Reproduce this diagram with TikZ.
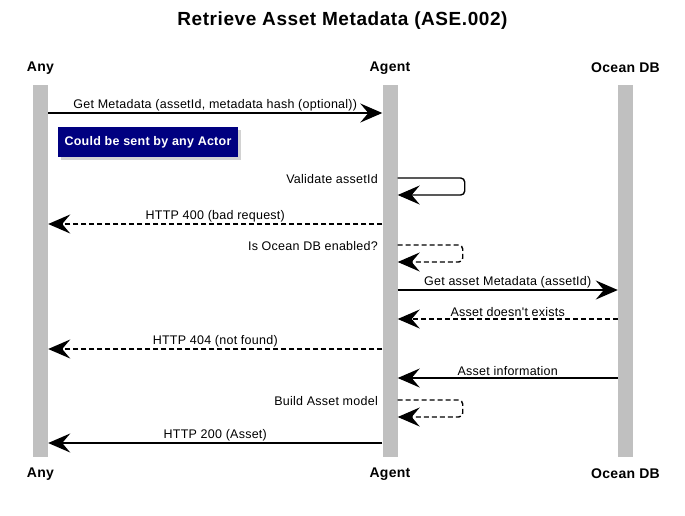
\documentclass[tikz,border=0pt]{standalone}
\usepackage{fontspec}
\setmainfont{Liberation Sans}
\newfontfamily\lblfont[LetterSpace=2]{Liberation Sans}
\newfontfamily\ttlfont[LetterSpace=3]{Liberation Sans}
\usetikzlibrary{arrows.meta,shadows,positioning}
\definecolor{barGray}{HTML}{C0C0C0}
\definecolor{noteBlue}{HTML}{000080}

\begin{document}
\begin{tikzpicture}[x=1pt,y=-1pt,
    lifebar/.style={fill=barGray,draw=none,minimum width=15pt,minimum height=372pt,inner sep=0pt},
    actor/.style={font={\lblfont\fontsize{14}{16}\selectfont\bfseries}},
    msg/.style={line width=1.4pt,-{Stealth[length=22pt,width=19pt,inset=8pt]}},
    reply/.style={msg,dash pattern=on 5pt off 3pt},
    lbl/.style={font={\lblfont\fontsize{12.5}{14}\selectfont},above,inner sep=1.5pt},
    selflbl/.style={font={\lblfont\fontsize{12.5}{14}\selectfont},anchor=east,inner sep=0pt},
    notebox/.style={fill=noteBlue,text=white,minimum width=180pt,minimum height=30pt,
      font={\lblfont\fontsize{12.5}{14}\selectfont\bfseries},
      drop shadow={shadow xshift=3pt,shadow yshift=-3pt,fill=black!35}}]
  \useasboundingbox (0,0) rectangle (685,515);
  \node[font={\ttlfont\fontsize{19}{22}\selectfont\bfseries}] (title) at (342.5,21) {Retrieve Asset Metadata (ASE.002)};
  % lifelines
  \node[lifebar] (any) at (40.5,271) {};
  \node[lifebar] (agent) at (390,271) {};
  \node[lifebar] (odb) at (625.5,271) {};
  \node[actor] (anyTop) at (40.5,68) {Any};
  \node[actor] (agentTop) at (390,68) {Agent};
  \node[actor] (odbTop) at (625.5,68) {Ocean DB};
  \node[actor] (anyBot) at (40.5,474) {Any};
  \node[actor] (agentBot) at (390,474) {Agent};
  \node[actor] (odbBot) at (625.5,474) {Ocean DB};
  % messages
  \draw[msg] (any.east |- 0,113) -- node[lbl] {Get Metadata (assetId, metadata hash (optional))} (agent.west |- 0,113);
  \node[notebox] (note) at (148,142) {Could be sent by any Actor};
  \draw[msg,rounded corners=4pt] (agent.east |- 0,178) -- ++(67,0) -- ++(0,17) -- (agent.east |- 0,195);
  \node[selflbl] (validate) at (378,179) {Validate assetId};
  \draw[reply] (agent.west |- 0,224) -- node[lbl] {HTTP 400 (bad request)} (any.east |- 0,224);
  \draw[reply,rounded corners=4pt] (agent.east |- 0,245) -- ++(65,0) -- ++(0,17) -- (agent.east |- 0,262);
  \node[selflbl] (enabled) at (378,246) {Is Ocean DB enabled?};
  \draw[msg] (agent.east |- 0,290) -- node[lbl] {Get asset Metadata (assetId)} (odb.west |- 0,290);
  \draw[reply] (odb.west |- 0,319) -- node[lbl] {Asset doesn't exists} (agent.east |- 0,319);
  \draw[reply] (agent.west |- 0,349) -- node[lbl] {HTTP 404 (not found)} (any.east |- 0,349);
  \draw[msg] (odb.west |- 0,378) -- node[lbl] {Asset information} (agent.east |- 0,378);
  \draw[reply,rounded corners=4pt] (agent.east |- 0,400) -- ++(65,0) -- ++(0,17) -- (agent.east |- 0,417);
  \node[selflbl] (build) at (378,401) {Build Asset model};
  \draw[msg] (agent.west |- 0,443) -- node[lbl] {HTTP 200 (Asset)} (any.east |- 0,443);
\end{tikzpicture}
\end{document}
